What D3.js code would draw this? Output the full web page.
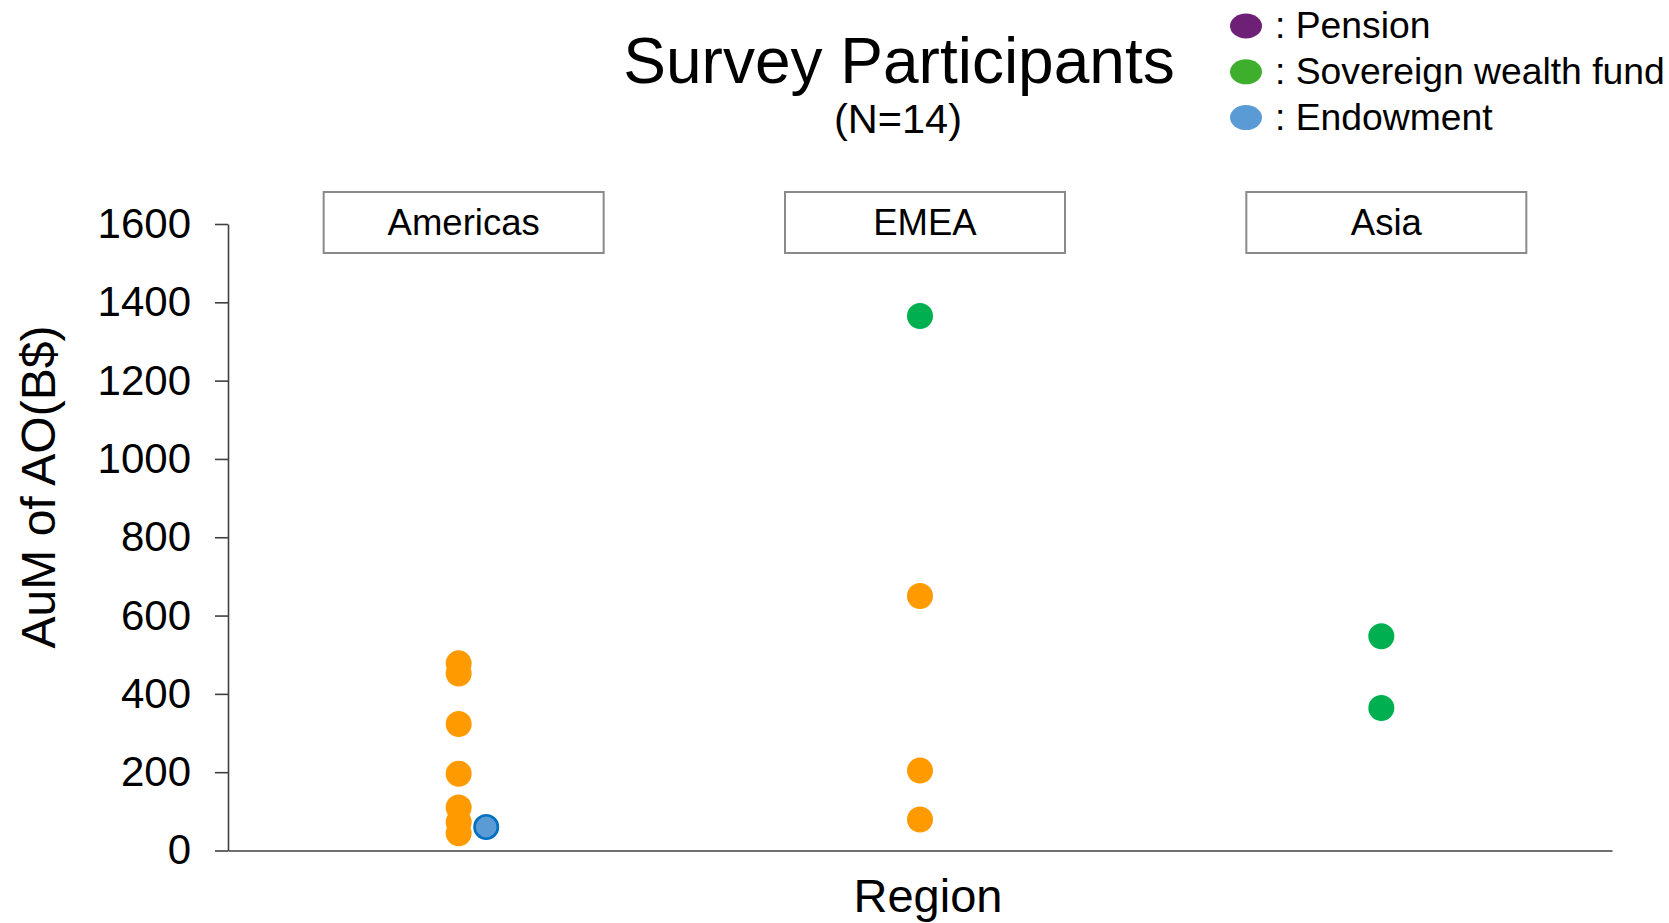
<!DOCTYPE html>
<html>
<head>
<meta charset="utf-8">
<script src="https://cdn.jsdelivr.net/npm/d3@7/dist/d3.min.js"></script>
<style>
  html, body { margin: 0; padding: 0; background: #ffffff; }
  svg { display: block; font-family: "Liberation Sans", Arial, sans-serif; }
</style>
</head>
<body>
<svg id="chart" width="1669" height="923"></svg>
<script>
// ---- data ----
const regions = ["Americas", "EMEA", "Asia"];
const yTicks = [0, 200, 400, 600, 800, 1000, 1200, 1400, 1600];

// orange points (type not shown in legend)
const otherRegion = ["Americas", "Americas", "Americas", "Americas", "Americas", "Americas", "Americas", "EMEA", "EMEA", "EMEA"];
const otherAuM    = [478, 452, 323, 196, 110, 72, 44, 650, 204, 79];

// sovereign wealth funds
const swfRegion = ["EMEA", "Asia", "Asia"];
const swfAuM    = [1365, 547, 364];

// endowments
const endowRegion = ["Americas"];
const endowAuM    = [60];

const legendLabels = ["Pension", "Sovereign wealth fund", "Endowment"];
const legendColors = ["#6E2076", "#3DAF2C", "#5B9BD5"];

// ---- layout ----
const svg = d3.select("#chart");
const plotLeft = 228, plotRight = 1612, plotTop = 224, plotBottom = 850.5;

const x = d3.scaleBand().domain(regions).range([plotLeft, plotRight]);
const cx = r => x(r) + x.bandwidth() / 2;
const y = d3.scaleLinear().domain([0, 1600]).range([plotBottom, plotTop]);

const axisColor = "#404040";

// title
svg.append("text")
  .attr("x", 899).attr("y", 83)
  .attr("text-anchor", "middle")
  .attr("font-size", 64)
  .attr("fill", "#000")
  .text("Survey Participants");
svg.append("text")
  .attr("x", 898).attr("y", 133)
  .attr("text-anchor", "middle")
  .attr("font-size", 41.5)
  .attr("fill", "#000")
  .text("(N=14)");

// legend
const lg = svg.append("g");
legendLabels.forEach((lab, i) => {
  const cy = 26 + i * 45.8;
  lg.append("ellipse")
    .attr("cx", 1246).attr("cy", cy)
    .attr("rx", 16).attr("ry", 12.5)
    .attr("fill", legendColors[i]);
  lg.append("text")
    .attr("x", 1275).attr("y", cy + 12)
    .attr("font-size", 37.3)
    .attr("fill", "#000")
    .text(": " + lab);
});

// y axis
const yAxis = d3.axisLeft(y)
  .tickValues(yTicks)
  .tickSize(13)
  .tickSizeOuter(0)
  .tickPadding(24)
  .tickFormat(d3.format("d"));
const gy = svg.append("g")
  .attr("transform", `translate(${plotLeft},0)`)
  .call(yAxis);
gy.select(".domain").attr("stroke", axisColor).attr("stroke-width", 1.6);
gy.selectAll(".tick line").attr("stroke", axisColor).attr("stroke-width", 1.6);
gy.selectAll(".tick text")
  .attr("font-size", 42)
  .attr("font-family", "Liberation Sans, Arial, sans-serif")
  .attr("fill", "#000");

// x axis (line only)
const xAxis = d3.axisBottom(x).tickSize(0).tickFormat("");
const gx = svg.append("g")
  .attr("transform", `translate(0,${plotBottom})`)
  .call(xAxis);
gx.select(".domain").attr("stroke", axisColor).attr("stroke-width", 1.6);

// axis titles
svg.append("text")
  .attr("transform", "translate(55,487) rotate(-90)")
  .attr("text-anchor", "middle")
  .attr("font-size", 48)
  .attr("fill", "#000")
  .text("AuM of AO(B$)");
svg.append("text")
  .attr("x", 928).attr("y", 912)
  .attr("text-anchor", "middle")
  .attr("font-size", 47)
  .attr("fill", "#000")
  .text("Region");

// facet label boxes
const boxW = 280, boxH = 61, boxTop = 192, boxShift = 5;
const fg = svg.append("g");
regions.forEach(r => {
  const c = cx(r) + boxShift;
  fg.append("rect")
    .attr("x", c - boxW / 2).attr("y", boxTop)
    .attr("width", boxW).attr("height", boxH)
    .attr("fill", "#fff")
    .attr("stroke", "#8a8a8a")
    .attr("stroke-width", 2);
  fg.append("text")
    .attr("x", c).attr("y", boxTop + 43)
    .attr("text-anchor", "middle")
    .attr("font-size", 36.5)
    .attr("fill", "#000")
    .text(r);
});

// points
const pr = 13;
svg.append("g").selectAll("circle.other")
  .data(otherAuM.map((v, i) => ({ r: otherRegion[i], v })))
  .join("circle")
  .attr("class", "other")
  .attr("cx", d => cx(d.r))
  .attr("cy", d => y(d.v))
  .attr("r", pr)
  .attr("fill", "#FF9A00");

svg.append("g").selectAll("circle.swf")
  .data(swfAuM.map((v, i) => ({ r: swfRegion[i], v })))
  .join("circle")
  .attr("class", "swf")
  .attr("cx", d => cx(d.r))
  .attr("cy", d => y(d.v))
  .attr("r", pr)
  .attr("fill", "#00B050");

// endowment dodged to the right of the stack
const dodge = pr * 2.12;
svg.append("g").selectAll("circle.endow")
  .data(endowAuM.map((v, i) => ({ r: endowRegion[i], v })))
  .join("circle")
  .attr("class", "endow")
  .attr("cx", d => cx(d.r) + dodge)
  .attr("cy", d => y(d.v))
  .attr("r", pr - 1.3)
  .attr("fill", "#5B9BD5")
  .attr("stroke", "#0070C0")
  .attr("stroke-width", 2.6);
</script>
</body>
</html>
